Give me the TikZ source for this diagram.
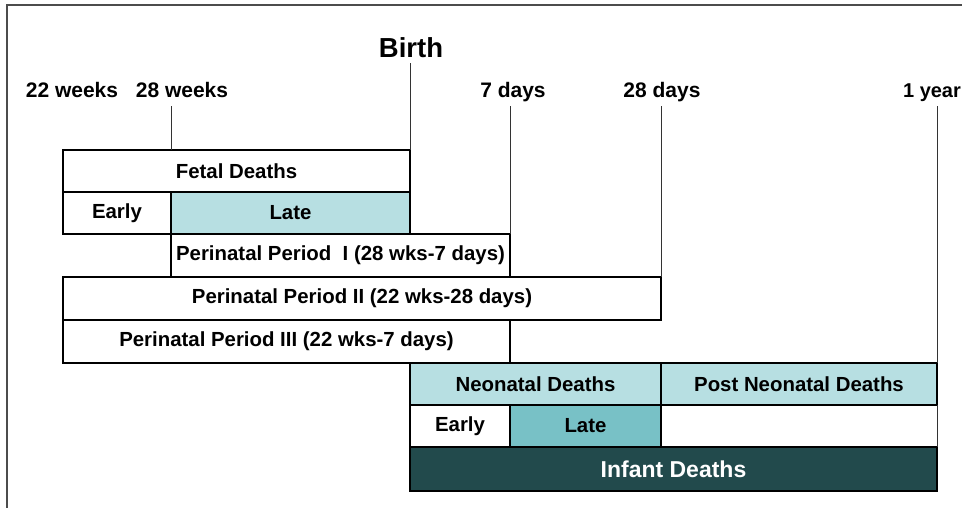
\documentclass[tikz,border=0pt]{standalone}
\usepackage{fontspec}
\setmainfont{Liberation Sans}
\definecolor{lteal}{RGB}{183,223,226}
\definecolor{mteal}{RGB}{120,193,198}
\definecolor{dteal}{RGB}{34,74,76}
\begin{document}
\begin{tikzpicture}[x=1pt,y=-1pt,
  box/.style={draw=black,line width=2pt,fill=white,anchor=north west,inner sep=0pt,outer sep=0pt,
    font=\fontsize{20.4}{24}\selectfont\bfseries},
  lbl/.style={font=\fontsize{21}{24}\selectfont\bfseries,inner sep=0pt,anchor=base},
  tick/.style={draw=black!80,line width=1pt},
  frame/.style={draw=black!70,line width=2pt}]
\useasboundingbox (0,0) rectangle (962,507);
\coordinate (fa) at (7,510);
\coordinate (fb) at (7,5);
\coordinate (fc) at (965,5);
\draw[frame] (fa) -- (fb) -- (fc);
% labels
\node[font=\fontsize{27.5}{30}\selectfont\bfseries,inner sep=0pt,anchor=base] (birthlbl) at (411,57) {Birth};
\node[lbl] (w22) at (72,97) {22 weeks};
\node[lbl] (w28) at (182,97) {28 weeks};
\node[lbl] (d7) at (513,97) {7 days};
\node[lbl] (d28) at (662,97) {28 days};
\node[lbl,font=\fontsize{20}{24}\selectfont\bfseries] (y1) at (932,97) {1 year};
% boxes
\node[box,minimum width=347pt,minimum height=42pt] (fetal) at (63,150) {Fetal Deaths};
\node[box,minimum width=108pt,minimum height=42pt] (fearly) at (63,192) {Early};
\node[box,fill=lteal,minimum width=239pt,minimum height=42pt] (flate) at (171,192) {Late};
\node[box,minimum width=339pt,minimum height=43pt] (pp1) at (171,234) {Perinatal Period\ \ I (28 wks-7 days)};
\node[box,minimum width=598pt,minimum height=43pt] (pp2) at (63,277) {Perinatal Period II (22 wks-28 days)};
\node[box,minimum width=447pt,minimum height=43pt] (pp3) at (63,320) {Perinatal Period III (22 wks-7 days)};
\node[box,fill=lteal,minimum width=251pt,minimum height=42pt] (neo) at (410,363) {Neonatal Deaths};
\node[box,fill=lteal,minimum width=276pt,minimum height=42pt] (post) at (661,363) {Post Neonatal Deaths};
\node[box,minimum width=100pt,minimum height=42pt] (nearly) at (410,405) {Early};
\node[box,fill=mteal,minimum width=151pt,minimum height=42pt] (nlate) at (510,405) {Late};
\node[box,fill=dteal,text=white,minimum width=527pt,minimum height=44pt,font=\fontsize{23}{26}\selectfont\bfseries] (infant) at (410,447) {Infant Deaths};
% ticks
\coordinate (tb) at (410,63);
\coordinate (t28w) at (171,106);
\coordinate (t7d) at (510,106);
\coordinate (t28d) at (661,106);
\coordinate (t1y) at (937,106);
\draw[tick] (tb) -- (fetal.north east);
\draw[tick] (t28w) -- (t28w |- fetal.north);
\draw[tick] (t7d) -- (pp1.north east);
\draw[tick] (t28d) -- (pp2.north east);
\draw[tick] (t1y) -- (t1y |- post.north);
\draw[tick] (post.south east) -- (infant.north east);
\end{tikzpicture}
\end{document}
